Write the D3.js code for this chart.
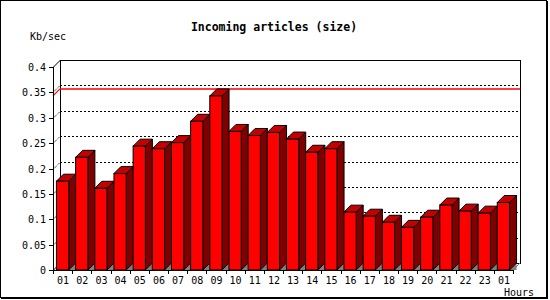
<!DOCTYPE html>
<html><head><meta charset="utf-8">
<script src="https://cdn.jsdelivr.net/npm/d3@7/dist/d3.min.js"></script>
<style>body{margin:0;background:#fff}svg{display:block}</style>
</head><body><svg id="c" width="550" height="300"></svg>
<script>
const hours = ["01","02","03","04","05","06","07","08","09","10","11","12","13","14","15","16","17","18","19","20","21","22","23","01"];
const values = [0.175,0.222,0.161,0.190,0.244,0.239,0.251,0.293,0.343,0.273,0.265,0.271,0.258,0.232,0.239,0.114,0.106,0.094,0.084,0.104,0.128,0.116,0.112,0.133];
const yTicks = [0,0.05,0.1,0.15,0.2,0.25,0.3,0.35,0.4];
const yTickLabels = ["0","0.05","0.1","0.15","0.2","0.25","0.3","0.35","0.4"];
const titleText = "Incoming articles (size)";
const yTitle = "Kb/sec";
const xTitle = "Hours";

const svg = d3.select("#c");
const D = 7;
const font = "'DejaVu Sans Mono', monospace";
const x = d3.scaleBand().domain(d3.range(hours.length)).range([53, 513]).paddingInner(0.36).paddingOuter(0.18);
const y = d3.scaleLinear().domain([0, 0.4]).range([270, 67]);
const X0 = 53, X1 = 513, Yb = y(0), Yt = y(0.4);

// frame
svg.append("rect").attr("x",0.5).attr("y",0.5).attr("width",546).attr("height",297)
  .attr("fill","#fff").attr("stroke","#000").attr("shape-rendering","crispEdges");
svg.append("line").attr("x1",547.5).attr("x2",547.5).attr("y1",1).attr("y2",299).attr("stroke","#000").attr("shape-rendering","crispEdges");
svg.append("line").attr("x1",1).attr("x2",548).attr("y1",298.5).attr("y2",298.5).attr("stroke","#000").attr("shape-rendering","crispEdges");

// title
svg.append("text").attr("x",274).attr("y",31).attr("text-anchor","middle")
  .attr("font-family",font).attr("font-weight","bold").attr("font-size","11.5px").text(titleText);
svg.append("text").attr("x",30).attr("y",40).attr("font-family",font).attr("font-size","10px").text(yTitle);
svg.append("text").attr("x",504).attr("y",296).attr("font-family",font).attr("font-size","10px").text(xTitle);

const g = svg.append("g");
// back plane
g.append("rect").attr("x",X0+D+0.5).attr("y",Yt-D+0.5).attr("width",X1-X0).attr("height",Yb-Yt)
  .attr("fill","#fff").attr("stroke","#000").attr("shape-rendering","crispEdges");

// gridlines
yTicks.filter(t => t > 0 && t < 0.4).forEach(t => {
  const yy = Math.round(y(t)) - D + 0.5;
  g.append("line").attr("x1",X0+D).attr("x2",X1+D).attr("y1",yy).attr("y2",yy)
    .attr("stroke","#000").attr("stroke-dasharray","2,2").attr("shape-rendering","crispEdges");
  g.append("line").attr("x1",X0).attr("x2",X0+D).attr("y1",yy+D).attr("y2",yy)
    .attr("stroke","#000").attr("stroke-dasharray","1,1");
});

// red max line
const vmax = d3.max(values);
const ry = y(vmax) - D;
g.append("line").attr("x1",X0+D).attr("x2",X1+D).attr("y1",ry).attr("y2",ry).attr("stroke","#ff0000").attr("stroke-width",1.6);
g.append("line").attr("x1",X0).attr("x2",X0+D).attr("y1",ry+D).attr("y2",ry).attr("stroke","#ff0000").attr("stroke-width",1.2);

// left wall edges & front y axis
g.append("line").attr("x1",X0+0.5).attr("x2",X0+0.5).attr("y1",Yt).attr("y2",Yb).attr("stroke","#000").attr("shape-rendering","crispEdges");
g.append("line").attr("x1",X0+0.5).attr("x2",X0+D+0.5).attr("y1",Yt).attr("y2",Yt-D).attr("stroke","#000");
g.append("line").attr("x1",X0+0.5).attr("x2",X0+D+0.5).attr("y1",Yb).attr("y2",Yb-D).attr("stroke","#000");

// y ticks and labels
yTicks.forEach((t,i) => {
  const yy = Math.round(y(t)) + 0.5;
  g.append("line").attr("x1",X0-4).attr("x2",X0).attr("y1",yy).attr("y2",yy).attr("stroke","#000").attr("shape-rendering","crispEdges");
  g.append("text").attr("x",46).attr("y",yy+3.5).attr("text-anchor","end")
    .attr("font-family",font).attr("font-size","10px").text(yTickLabels[i]);
});

// floor right edge
g.append("line").attr("x1",X1).attr("x2",X1+D).attr("y1",Yb).attr("y2",Yb-D).attr("stroke","#808080");

// bars
const bw = x.bandwidth();
values.forEach((v,i) => {
  const bx = x(i), ty = y(v);
  const bg = g.append("g");
  bg.append("path").attr("d",`M${bx+bw},${Yb}L${bx+bw+D},${Yb-D}L${bx+bw+D},${Yb}Z`).attr("fill","#808080");
  bg.append("path").attr("d",`M${bx+bw},${ty}L${bx+bw+D},${ty-D}L${bx+bw+D},${Yb-D}L${bx+bw},${Yb}Z`)
    .attr("fill","#800000").attr("stroke","#000").attr("stroke-width",1);
  bg.append("path").attr("d",`M${bx},${ty}L${bx+D},${ty-D}L${bx+bw+D},${ty-D}L${bx+bw},${ty}Z`)
    .attr("fill","#c40000").attr("stroke","#000").attr("stroke-width",1);
  bg.append("rect").attr("x",bx).attr("y",ty).attr("width",bw).attr("height",Yb-ty)
    .attr("fill","#ff0000").attr("stroke","#000").attr("stroke-width",1);
});

// front x axis
g.append("line").attr("x1",X0).attr("x2",X1).attr("y1",Yb+0.5).attr("y2",Yb+0.5).attr("stroke","#000").attr("shape-rendering","crispEdges");
const step = x.step();
d3.range(hours.length + 1).forEach(i => {
  const xx = Math.round(X0 + i*step) + 0.5;
  g.append("line").attr("x1",xx).attr("x2",xx).attr("y1",Yb).attr("y2",Yb+4).attr("stroke","#000").attr("shape-rendering","crispEdges");
});
hours.forEach((h,i) => {
  g.append("text").attr("x",X0 + (i+0.5)*step + 0.5).attr("y",284).attr("text-anchor","middle")
    .attr("font-family",font).attr("font-size","10px").text(h);
});
</script></body></html>
